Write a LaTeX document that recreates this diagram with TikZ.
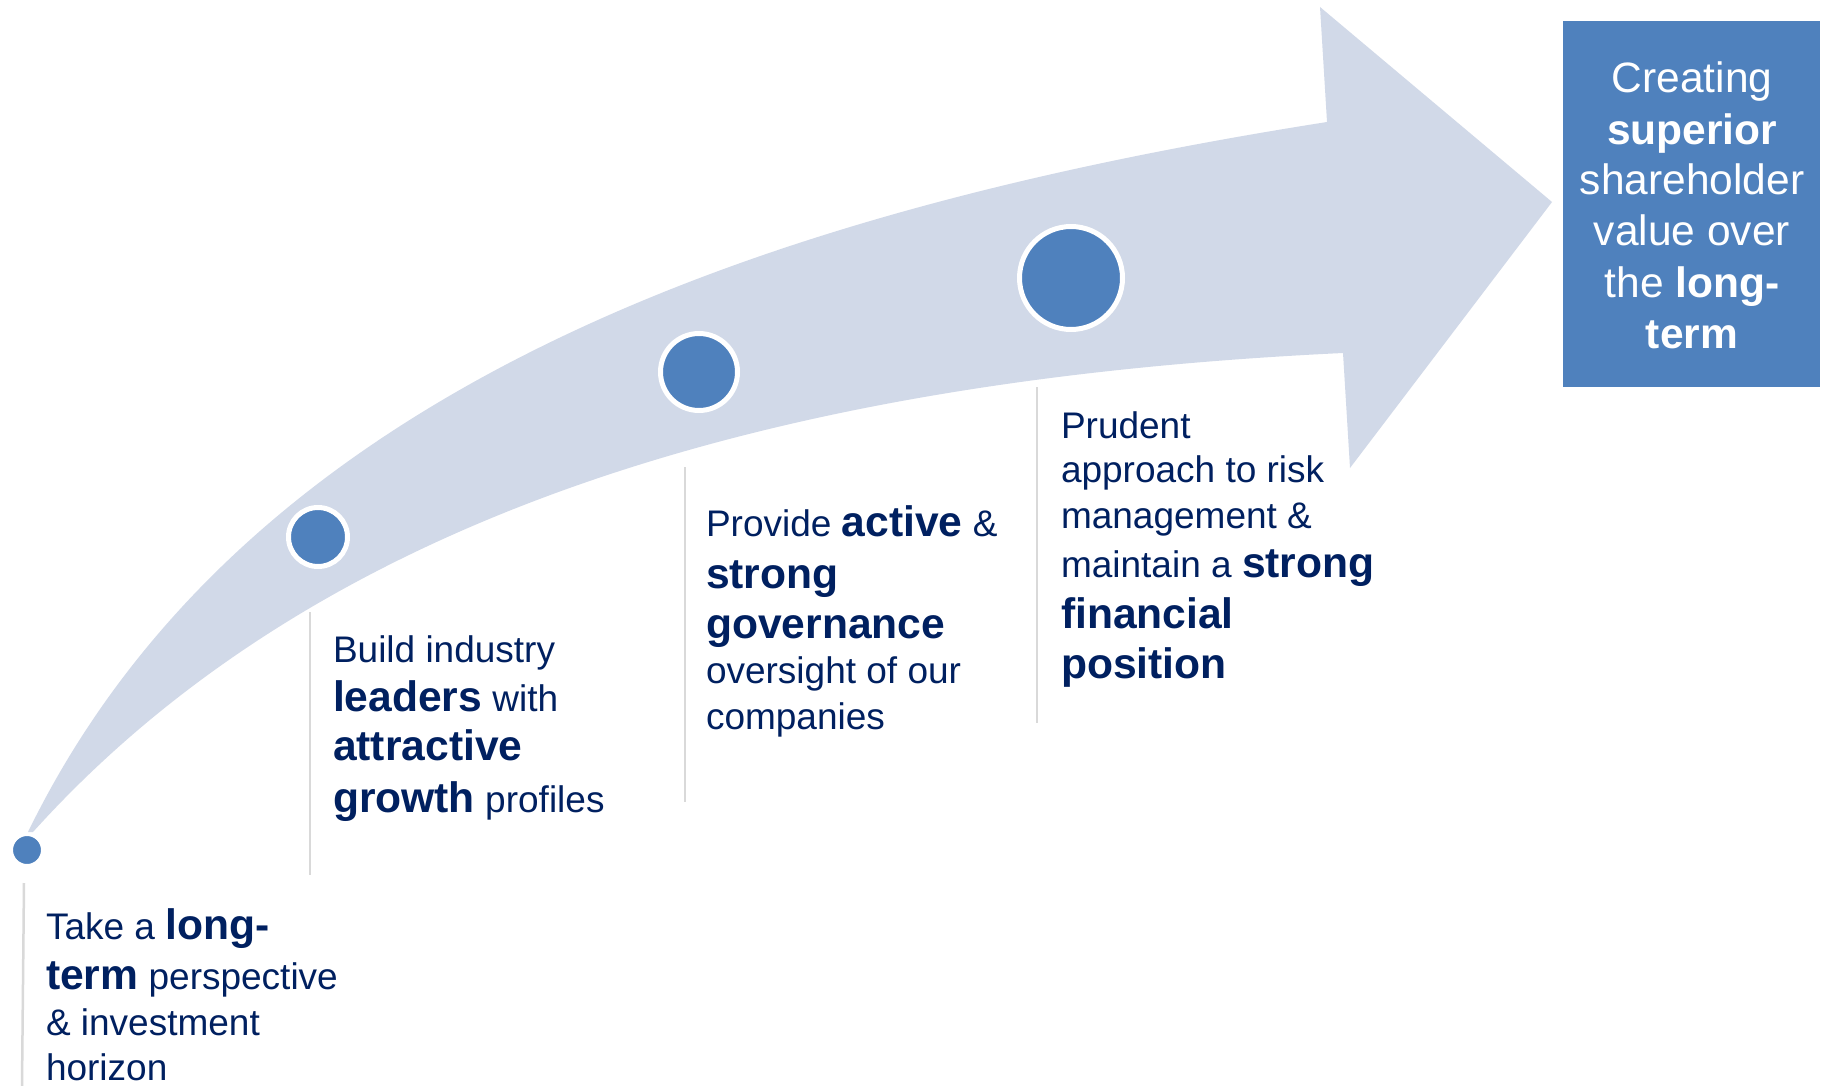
\documentclass[tikz,border=0pt]{standalone}
\usepackage{fontspec}
\setmainfont{Liberation Sans}
\definecolor{navy}{HTML}{002060}
\definecolor{cblue}{HTML}{4F81BD}
\definecolor{bandfill}{HTML}{D1D9E8}
\definecolor{rulegray}{HTML}{D9D9D9}
\newcommand\B[1]{{\fontsize{42.6}{50}\selectfont\bfseries #1}}
\begin{document}
\begin{tikzpicture}[x=1pt,y=-1pt,
  txt/.style={anchor=base west,inner sep=0pt,outer sep=0pt,text=navy,font=\fontsize{37}{44}\selectfont},
  boxtxt/.style={anchor=base,inner sep=0pt,outer sep=0pt,text=white,font=\fontsize{42.5}{51}\selectfont},
  dot/.style={circle,fill=cblue,draw=white,inner sep=0pt,outer sep=0pt},
  sep/.style={draw=rulegray,line width=2.5pt},
  goalbox/.style={rectangle,fill=cblue,inner sep=0pt,outer sep=0pt,minimum width=257pt,minimum height=366pt}]
\useasboundingbox (0,0) rectangle (1828,1086);
\fill[white] (0,0) rectangle (1828,1086);
% curved arrow
\fill[bandfill] (28,832) .. controls (247,383) and (774,209) .. (1327,122)
  -- (1320,7) -- (1552,202) -- (1350,468) -- (1343,353)
  .. controls (814,378) and (334,498) .. (33,832) -- cycle;
% milestone dots
\node[dot,line width=2pt,minimum size=30pt] (d1) at (27,850) {};
\node[dot,line width=5pt,minimum size=59pt] (d2) at (318,537) {};
\node[dot,line width=5pt,minimum size=77pt] (d3) at (699,372) {};
\node[dot,line width=5pt,minimum size=103pt] (d4) at (1071,278) {};
% separator rules
\coordinate (s1a) at (24,883); \coordinate (s1b) at (22,1086);
\coordinate (s2a) at (310,612); \coordinate (s2b) at (310,875);
\coordinate (s3a) at (685,467); \coordinate (s3b) at (685,802);
\coordinate (s4a) at (1037,387); \coordinate (s4b) at (1037,723);
\draw[sep] (s1a) -- (s1b);
\draw[sep] (s2a) -- (s2b);
\draw[sep] (s3a) -- (s3b);
\draw[sep] (s4a) -- (s4b);
% text 1
\node[txt] (t1a) at (46,939) {Take a \B{long-}};
\node[txt] (t1b) at (46,989) {\B{term} perspective};
\node[txt] (t1c) at (46,1035) {\& investment};
\node[txt] (t1d) at (46,1080) {horizon};
% text 2
\node[txt] (t2a) at (333,662) {Build industry};
\node[txt] (t2b) at (333,711) {\B{leaders} with};
\node[txt] (t2c) at (333,760) {\B{attractive}};
\node[txt] (t2d) at (333,812) {\B{growth} profiles};
% text 3
\node[txt] (t3a) at (706,536) {Provide \B{active} \&};
\node[txt] (t3b) at (706,588) {\B{strong}};
\node[txt] (t3c) at (706,638) {\B{governance}};
\node[txt] (t3d) at (706,683) {oversight of our};
\node[txt] (t3e) at (706,729) {companies};
% text 4
\node[txt] (t4a) at (1061,438) {Prudent};
\node[txt] (t4b) at (1061,482) {approach to risk};
\node[txt] (t4c) at (1061,528) {management \&};
\node[txt] (t4d) at (1061,577) {maintain a \B{strong}};
\node[txt] (t4e) at (1061,628) {\B{financial}};
\node[txt] (t4f) at (1061,678) {\B{position}};
% goal box
\node[goalbox] (goal) at (1691.5,204) {};
\node[boxtxt] (g1) at (1692,93) {Creating};
\node[boxtxt] (g2) at (1692,145) {\textbf{superior}};
\node[boxtxt] (g3) at (1692,195) {shareholder};
\node[boxtxt] (g4) at (1692,245) {value over};
\node[boxtxt] (g5) at (1692,297) {the \textbf{long-}};
\node[boxtxt] (g6) at (1692,348) {\textbf{term}};
\end{tikzpicture}
\end{document}
